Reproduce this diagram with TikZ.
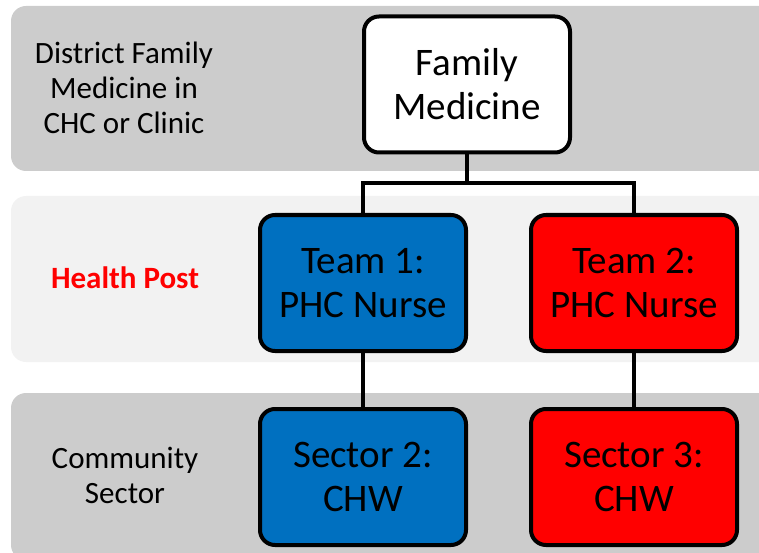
\documentclass[tikz,border=0pt]{standalone}
\usepackage{fontspec}
\setmainfont{Carlito}
\begin{document}
\begin{tikzpicture}[x = 1pt, y = -1pt]
\pgfmathsetlengthmacro\boxwidth{206}
\pgfmathsetlengthmacro\boxheight{136}
\tikzset{
  unit/.style = {draw = black, line width = 4pt, rounded corners = 15pt, minimum width = \boxwidth, minimum height = \boxheight, inner sep = 0pt, align = center, font = \fontsize{39}{44}\selectfont},
  level/.style = {align = center, font = \fontsize{31}{35}\selectfont},
  link/.style = {draw = black, line width = 3.5pt}
}
\definecolor{darkband}{HTML}{CCCCCC}
\definecolor{lightband}{HTML}{F2F2F2}
\definecolor{teamblue}{HTML}{0070C0}
\useasboundingbox (0,0) rectangle (759,553);
\clip (0,0) rectangle (759,553);
% bands
\fill [darkband, rounded corners = 15pt] (11,6) rectangle (790,171);
\fill [lightband, rounded corners = 15pt] (11,196) rectangle (790,362);
\fill [darkband, rounded corners = 15pt] (11,393) rectangle (790,560);
% level names
\node [level] (district) at (124,88) {District Family\\Medicine in\\CHC or Clinic};
\node [level, text = red, font = \fontsize{31}{35}\selectfont\bfseries] (post) at (125,278) {Health Post};
\node [level] (community) at (125,475) {Community\\Sector};
% boxes
\node [unit, fill = white] (fm) at (467,84.5) {Family\\Medicine};
\node [unit, fill = teamblue] (team1) at (363,283) {Team 1:\\PHC Nurse};
\node [unit, fill = red] (team2) at (634,283) {Team 2:\\PHC Nurse};
\node [unit, fill = teamblue] (sector2) at (363,477) {Sector 2:\\CHW};
\node [unit, fill = red] (sector3) at (634,477) {Sector 3:\\CHW};
% links
\coordinate (bus) at (467,183);
\draw [link] (fm) -- (bus);
\draw [link] (team1.north) |- (bus) -| (team2.north);
\draw [link] (team1) -- (sector2);
\draw [link] (team2) -- (sector3);
\end{tikzpicture}
\end{document}
